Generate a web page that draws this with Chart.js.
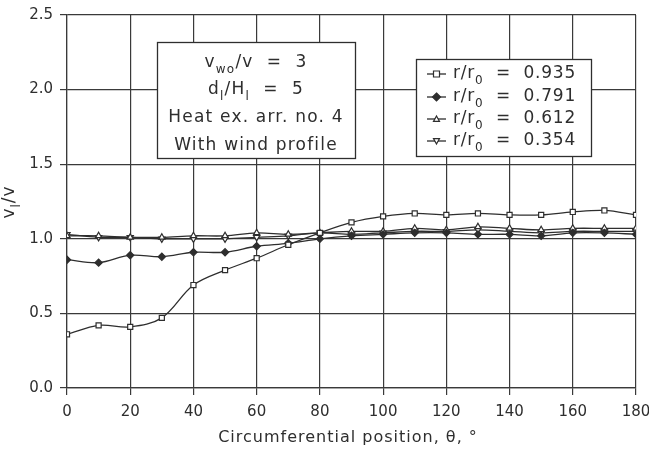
<!DOCTYPE html>
<html>
<head>
<meta charset="utf-8">
<script src="https://cdn.jsdelivr.net/npm/chart.js@4/dist/chart.umd.min.js"></script>
<style>
html,body{margin:0;padding:0;background:#fff;}
#wrap{width:649px;height:450px;position:relative;}
</style>
</head>
<body>
<div id="wrap"><canvas id="c" width="649" height="450"></canvas></div>
<script>
const theta = [0,10,20,30,40,50,60,70,80,90,100,110,120,130,140,150,160,170,180];
const r935 = [0.36,0.42,0.41,0.47,0.69,0.79,0.87,0.96,1.04,1.11,1.15,1.17,1.16,1.17,1.16,1.16,1.18,1.19,1.16];
const r791 = [0.86,0.84,0.89,0.88,0.91,0.91,0.95,0.97,1.00,1.02,1.03,1.04,1.04,1.03,1.03,1.02,1.04,1.04,1.03];
const r612 = [1.02,1.02,1.01,1.01,1.02,1.02,1.04,1.03,1.04,1.05,1.05,1.07,1.06,1.08,1.07,1.06,1.07,1.07,1.07];
const r354 = [1.03,1.01,1.01,1.00,1.00,1.00,1.01,1.02,1.04,1.03,1.04,1.05,1.05,1.06,1.05,1.04,1.05,1.05,1.05];
const seriesValues = ["0.935","0.791","0.612","0.354"];
const xTicks = [0,20,40,60,80,100,120,140,160,180];
const yTicks = [0.0,0.5,1.0,1.5,2.0,2.5];
const xTitle = 'Circumferential position, θ, °';

const INK = '#2e2e2e';
const FONT = '"DejaVu Sans", sans-serif';

function pts(arr){ return theta.map((t,i)=>({x:t,y:arr[i]})); }

function ds(label, arr, style, rot, bg){
  return {
    label, data: pts(arr),
    borderColor: INK, borderWidth: 1.3,
    pointStyle: style, pointRotation: rot,
    pointRadius: 3.6, pointBorderWidth: 1.2,
    pointBorderColor: INK, pointBackgroundColor: bg,
    tension: 0.35, fill:false
  };
}

function richWidth(ctx, segs, size){
  let w=0;
  segs.forEach(s=>{ ctx.font = (s.sub? Math.round(size*0.72):size)+'px '+FONT; w+=ctx.measureText(s.t).width; });
  return w;
}
function drawRich(ctx, segs, x, y, size){
  let cx=x;
  segs.forEach(s=>{
    const fs = s.sub? Math.round(size*0.72):size;
    ctx.font = fs+'px '+FONT;
    ctx.fillText(s.t, cx, y + (s.sub? size*0.4:0));
    cx += ctx.measureText(s.t).width;
  });
}

function marker(ctx, style, x, y, r){
  ctx.save();
  ctx.strokeStyle=INK; ctx.lineWidth=1.2;
  ctx.beginPath();
  if(style==='sq'){ ctx.rect(x-r,y-r,2*r,2*r); ctx.fillStyle='#fff'; ctx.fill(); ctx.stroke(); }
  else if(style==='dia'){ ctx.moveTo(x,y-r-1);ctx.lineTo(x+r+1,y);ctx.lineTo(x,y+r+1);ctx.lineTo(x-r-1,y);ctx.closePath(); ctx.fillStyle=INK; ctx.fill(); ctx.stroke(); }
  else if(style==='tri'){ ctx.moveTo(x,y-r);ctx.lineTo(x+r,y+r*0.8);ctx.lineTo(x-r,y+r*0.8);ctx.closePath(); ctx.fillStyle='#fff'; ctx.fill(); ctx.stroke(); }
  else { ctx.moveTo(x,y+r);ctx.lineTo(x+r,y-r*0.8);ctx.lineTo(x-r,y-r*0.8);ctx.closePath(); ctx.fillStyle='#fff'; ctx.fill(); ctx.stroke(); }
  ctx.restore();
}

const overlay = {
  id:'overlay',
  afterDraw(chart){
    const ctx = chart.ctx;
    ctx.save();
    ctx.fillStyle = INK; ctx.strokeStyle = INK; ctx.textBaseline='middle';
    ctx.letterSpacing = '1.2px';
    // annotation box
    ctx.fillStyle='#fff'; ctx.fillRect(157,42,198,116);
    ctx.lineWidth=1.3; ctx.strokeRect(157.5,42.5,198,116);
    ctx.fillStyle=INK;
    const lines = [
      {y:63, segs:[{t:'v'},{t:'wo',sub:true},{t:'/v  =  3'}]},
      {y:90, segs:[{t:'d'},{t:'l',sub:true},{t:'/H'},{t:'l',sub:true},{t:'  =  5'}]},
      {y:118, segs:[{t:'Heat ex. arr. no. 4'}]},
      {y:146, segs:[{t:'With wind profile'}]}
    ];
    lines.forEach(l=>{
      const w = richWidth(ctx,l.segs,17);
      drawRich(ctx,l.segs,256-w/2,l.y,17);
    });
    // legend box
    ctx.letterSpacing = '0.8px';
    ctx.fillStyle='#fff'; ctx.fillRect(416,59,175,97);
    ctx.strokeRect(416.5,59.5,175,97);
    ctx.fillStyle=INK;
    const styles=['sq','dia','tri','inv'];
    const ys=[74,97,119,141];
    seriesValues.forEach((v,i)=>{
      const y=ys[i];
      ctx.beginPath(); ctx.lineWidth=1.3; ctx.moveTo(427,y); ctx.lineTo(446,y); ctx.stroke();
      marker(ctx,styles[i],436.5,y,3);
      drawRich(ctx,[{t:'r/r'},{t:'0',sub:true},{t:'  =  '+v}],453,y,17);
    });
    // x title
    ctx.letterSpacing = '1px';
    ctx.font = '16px '+FONT;
    ctx.textAlign='center';
    ctx.fillText(xTitle, 348, 438);
    ctx.textAlign='left';
    // y title rotated
    ctx.save();
    ctx.translate(10,202);
    ctx.rotate(-Math.PI/2);
    const ys2=[{t:'v'},{t:'l',sub:true},{t:'/v'}];
    const w=richWidth(ctx,ys2,17);
    drawRich(ctx,ys2,-w/2,0,17);
    ctx.restore();
    ctx.restore();
  }
};

new Chart(document.getElementById('c'), {
  type:'line',
  data:{ datasets:[
    ds('r/r0 = 0.935', r935, 'rect', 0, '#fff'),
    ds('r/r0 = 0.791', r791, 'rectRot', 0, INK),
    ds('r/r0 = 0.612', r612, 'triangle', 0, '#fff'),
    ds('r/r0 = 0.354', r354, 'triangle', 180, '#fff')
  ]},
  options:{
    responsive:false, animation:false,
    layout:{padding:{left:0,right:13,top:15,bottom:0}},
    plugins:{legend:{display:false}, tooltip:{enabled:false}},
    scales:{
      x:{ type:'linear', min:0, max:180,
        afterBuildTicks(s){ s.ticks = xTicks.map(v=>({value:v})); },
        afterFit(s){ s.height = 62; s.paddingLeft = 0; s.paddingRight = 0; },
        grid:{color:'#3a3a3a', lineWidth:1.2, tickLength:7, drawTicks:true},
        border:{color:'#3a3a3a', width:1.2},
        ticks:{color:INK, font:{family:FONT,size:15}, padding:8, maxRotation:0}
      },
      y:{ type:'linear', min:0, max:2.5,
        afterBuildTicks(s){ s.ticks = yTicks.map(v=>({value:v})); },
        afterFit(s){ s.width = 67; s.paddingTop = 0; s.paddingBottom = 0; },
        grid:{color:'#3a3a3a', lineWidth:1.2, tickLength:7, drawTicks:true},
        border:{color:'#3a3a3a', width:1.2},
        ticks:{color:INK, font:{family:FONT,size:15}, padding:7, callback:v=>Number(v).toFixed(1)}
      }
    }
  },
  plugins:[overlay]
});
</script>
</body>
</html>
